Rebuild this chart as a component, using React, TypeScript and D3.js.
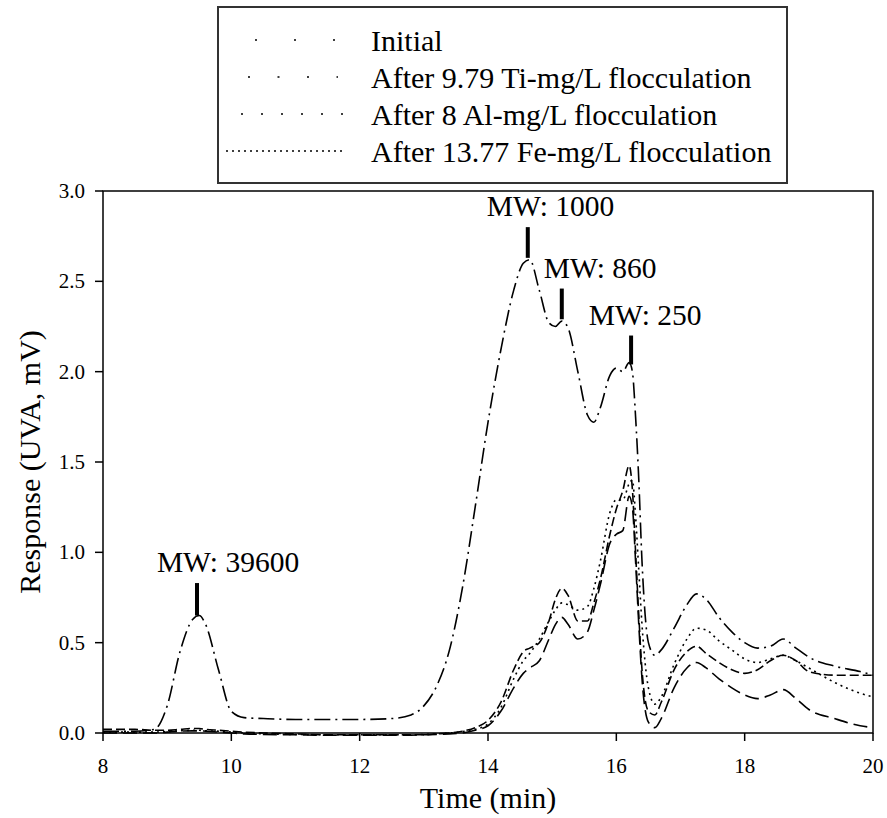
import React from "react";
import * as d3 from "d3";

const times = [8, 8.5, 8.8, 9.0, 9.2, 9.4, 9.5, 9.6, 9.8, 10.0, 10.2, 10.5, 11, 11.5, 12, 12.5, 12.8, 13.0, 13.2, 13.4, 13.6, 13.8, 14.0, 14.2, 14.4, 14.55, 14.65, 14.8, 14.95, 15.05, 15.15, 15.25, 15.4, 15.55, 15.65, 15.75, 15.9, 16.0, 16.1, 16.2, 16.25, 16.3, 16.35, 16.4, 16.5, 16.6, 16.7, 16.9, 17.1, 17.25, 17.4, 17.6, 17.8, 18.0, 18.2, 18.4, 18.6, 18.8, 19.0, 19.4, 19.8, 20];

const initial = [0.01, 0.01, 0.02, 0.15, 0.45, 0.63, 0.65, 0.6, 0.35, 0.12, 0.085, 0.08, 0.075, 0.075, 0.075, 0.08, 0.1, 0.15, 0.26, 0.46, 0.8, 1.25, 1.72, 2.12, 2.45, 2.6, 2.62, 2.45, 2.27, 2.25, 2.28, 2.24, 2.0, 1.76, 1.72, 1.8, 1.98, 2.02, 2.0, 2.05, 2.0, 1.75, 1.4, 0.95, 0.5, 0.43, 0.46, 0.58, 0.71, 0.77, 0.74, 0.64, 0.56, 0.5, 0.47, 0.48, 0.52, 0.47, 0.42, 0.37, 0.34, 0.32];

const ti = [0.0, 0.0, 0.0, 0.005, 0.01, 0.012, 0.012, 0.01, 0.005, 0.0, -0.005, -0.008, -0.01, -0.012, -0.012, -0.012, -0.012, -0.01, -0.008, -0.005, 0.0, 0.015, 0.04, 0.12, 0.25, 0.33, 0.36, 0.4, 0.52, 0.6, 0.64, 0.6, 0.52, 0.56, 0.68, 0.82, 1.05, 1.1, 1.12, 1.31, 1.25, 0.95, 0.6, 0.3, 0.06, 0.03, 0.08, 0.25, 0.36, 0.39, 0.36, 0.3, 0.25, 0.21, 0.19, 0.21, 0.24, 0.19, 0.13, 0.08, 0.04, 0.03];

const al = [0.02, 0.02, 0.015, 0.015, 0.02, 0.025, 0.025, 0.02, 0.015, 0.01, 0.005, 0.0, -0.005, -0.01, -0.01, -0.01, -0.01, -0.01, -0.005, 0.0, 0.01, 0.03, 0.07, 0.17, 0.35, 0.45, 0.47, 0.5, 0.62, 0.74, 0.8, 0.76, 0.62, 0.62, 0.72, 0.85, 1.1, 1.24, 1.34, 1.48, 1.35, 1.0, 0.65, 0.35, 0.12, 0.1, 0.17, 0.35, 0.45, 0.48, 0.44, 0.39, 0.35, 0.33, 0.35, 0.4, 0.43, 0.4, 0.34, 0.32, 0.32, 0.32];

const fe = [0.005, 0.005, 0.005, 0.008, 0.012, 0.015, 0.015, 0.012, 0.01, 0.005, 0.0, -0.005, -0.008, -0.01, -0.01, -0.01, -0.01, -0.008, -0.005, 0.0, 0.008, 0.02, 0.05, 0.14, 0.3, 0.4, 0.44, 0.52, 0.62, 0.68, 0.72, 0.71, 0.68, 0.7, 0.8, 0.95, 1.22, 1.29, 1.29, 1.38, 1.4, 1.2, 0.9, 0.6, 0.25, 0.16, 0.2, 0.38, 0.52, 0.58, 0.57, 0.51, 0.46, 0.41, 0.39, 0.41, 0.43, 0.4, 0.36, 0.28, 0.22, 0.2];

const seriesNames = ["Initial", "After 9.79 Ti-mg/L flocculation", "After 8 Al-mg/L flocculation", "After 13.77 Fe-mg/L flocculation"];
const seriesValues = [initial, ti, al, fe];
const seriesDash = ["16,5,2,5", "14,6", "9,4", "2,4"];
const legendDots = ["2,37", "2,27.5", "2,18", "2,4"];

const xTicks = [8, 10, 12, 14, 16, 18, 20];
const yTicks = [0, 0.5, 1.0, 1.5, 2.0, 2.5, 3.0];

const annLabels = ["MW: 39600", "MW: 1000", "MW: 860", "MW: 250"];
const annBarT = [9.465, 14.62, 15.15, 16.23];
const annBarV0 = [0.65, 2.63, 2.29, 2.04];
const annBarV1 = [0.83, 2.8, 2.46, 2.2];
const annTextT = [8.84, 13.98, 14.87, 15.57];
const annTextV = [0.89, 2.86, 2.52, 2.26];

export default function App() {
  const W = 887, H = 818;
  const L = 103, R = 873, T = 191, B = 733;
  const x = d3.scaleLinear().domain([8, 20]).range([L, R]);
  const y = d3.scaleLinear().domain([0, 3]).range([B, T]);
  const line = d3.line<number>()
    .x((_, i) => x(times[i]))
    .y((d) => y(d))
    .curve(d3.curveMonotoneX);
  const font = "'Liberation Serif', 'Times New Roman', serif";

  return (
    <svg width={W} height={H} style={{ position: "absolute", left: 0, top: 0, background: "#fff" }} fontFamily={font}>
      <rect x={0} y={0} width={W} height={H} fill="#fff" />
      <rect x={218} y={7} width={569} height={176} fill="none" stroke="#333" strokeWidth={2} />
      {seriesNames.map((n, i) => {
        const ry = 40 + i * 37;
        const x0 = [255, 248, 241, 226][i];
        const x1 = [336, 338, 344, 345][i];
        return (
          <g key={n}>
            <line x1={x0} x2={x1} y1={ry} y2={ry} stroke="#000" strokeWidth={1.5} strokeDasharray={legendDots[i]} />
            <text x={371} y={ry + 11} fontSize={30}>{n}</text>
          </g>
        );
      })}
      <defs>
        <clipPath id="plotclip">
          <rect x={L} y={T} width={R - L} height={B - T + 6} />
        </clipPath>
      </defs>
      <g clipPath="url(#plotclip)">
        {seriesValues.map((vals, i) => (
          <path key={i} d={line(vals) || ""} fill="none" stroke="#000" strokeWidth={1.6} strokeDasharray={seriesDash[i]} />
        ))}
      </g>
      <rect x={L} y={T} width={R - L} height={B - T} fill="none" stroke="#000" strokeWidth={1.5} />
      {xTicks.map((t) => (
        <g key={"x" + t}>
          <line x1={x(t)} x2={x(t)} y1={B} y2={B + 8} stroke="#000" strokeWidth={1.5} />
          <text x={x(t)} y={773} fontSize={21} textAnchor="middle">{t}</text>
        </g>
      ))}
      {yTicks.map((v) => (
        <g key={"y" + v}>
          <line x1={L - 8} x2={L} y1={y(v)} y2={y(v)} stroke="#000" strokeWidth={1.5} />
          <text x={85} y={y(v) + 7} fontSize={21} textAnchor="end">{v.toFixed(1)}</text>
        </g>
      ))}
      <text x={(L + R) / 2} y={808} fontSize={30} textAnchor="middle">Time (min)</text>
      <text transform={`translate(40,${(T + B) / 2}) rotate(-90)`} fontSize={30} textAnchor="middle">Response (UVA, mV)</text>
      {annLabels.map((lab, i) => (
        <g key={lab}>
          <line x1={x(annBarT[i])} x2={x(annBarT[i])} y1={y(annBarV0[i])} y2={y(annBarV1[i])} stroke="#000" strokeWidth={4} />
          <text x={x(annTextT[i])} y={y(annTextV[i])} fontSize={29.5}>{lab}</text>
        </g>
      ))}
    </svg>
  );
}
